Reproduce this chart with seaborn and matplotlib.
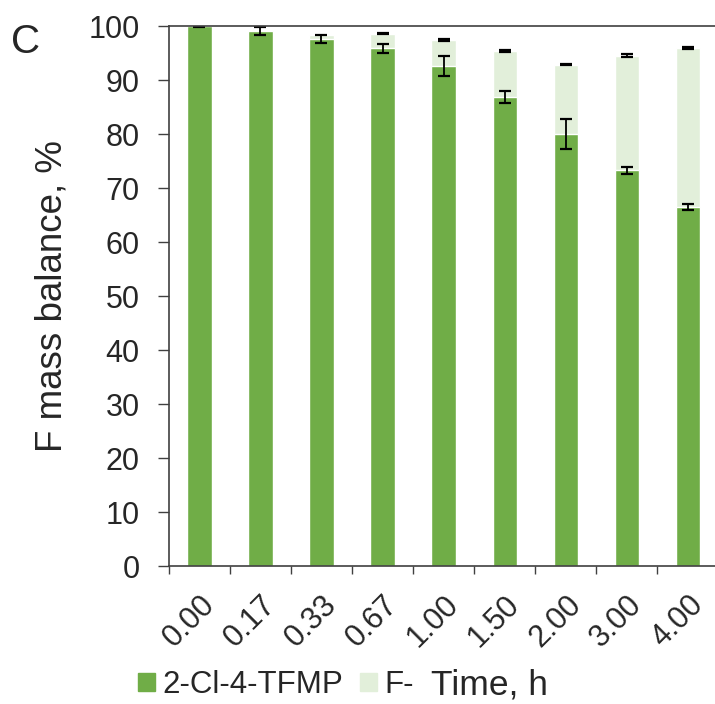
import numpy as np
import pandas as pd
import seaborn as sns
import matplotlib.pyplot as plt
from matplotlib.patches import Patch

# values
times = ["0.00", "0.17", "0.33", "0.67", "1.00", "1.50", "2.00", "3.00", "4.00"]
tfmp = [100.0, 99.1, 97.6, 95.9, 92.6, 86.8, 80.0, 73.25, 66.5]
tfmp_err = [0.15, 0.7, 0.8, 0.85, 1.85, 1.1, 2.8, 0.6, 0.5]
fluoride = [0.0, 0.0, 0.7, 2.7, 4.8, 8.6, 12.85, 21.25, 29.4]
fluoride_err = [np.nan, np.nan, np.nan, 0.15, 0.2, 0.2, 0.05, 0.3, 0.15]

green = "#70AD47"
light = "#E2EFDA"

df = pd.DataFrame({"time": times, "tfmp": tfmp, "fluoride": fluoride})
df["total"] = df["tfmp"] + df["fluoride"]

sns.set_style("white")
plt.rcParams["font.family"] = ["Liberation Sans", "DejaVu Sans"]

fig = plt.figure(figsize=(7.15, 7.04), dpi=100)
ax = fig.add_axes([0.236, 0.196, 0.769, 0.767])

# stacked look: total bar (light) first, then the 2-Cl-4-TFMP part over it
sns.barplot(data=df, x="time", y="total", order=times, color=light,
            saturation=1, width=0.4, errorbar=None, ax=ax)
sns.barplot(data=df, x="time", y="tfmp", order=times, color=green,
            saturation=1, width=0.4, errorbar=None, ax=ax)

pos = np.arange(len(times))
ax.errorbar(pos, df["tfmp"], yerr=tfmp_err, fmt="none", ecolor="black",
            elinewidth=1.3, capsize=4.6, capthick=1.6)
ax.errorbar(pos, df["total"], yerr=fluoride_err, fmt="none", ecolor="black",
            elinewidth=1.3, capsize=4.6, capthick=1.6)

ax.set_ylim(0, 100)
ax.set_xlim(-0.5, len(times) - 0.5)
ax.set_yticks(range(0, 101, 10))
ax.tick_params(axis="y", which="major", direction="out", length=8, width=1,
               pad=13, labelsize=22, left=True, color="#404040")
ax.set_xticks(pos)
ax.set_xticks(np.arange(-0.5, len(times) - 0.5, 1), minor=True)
ax.tick_params(axis="x", which="major", length=0, pad=17, labelsize=22)
ax.tick_params(axis="x", which="minor", direction="out", length=6, width=1,
               bottom=True, color="#404040")
for lab in ax.get_xticklabels():
    lab.set_rotation(45)
    lab.set_ha("right")
    lab.set_va("top")
    lab.set_rotation_mode("anchor")

for side in ["left", "bottom", "top"]:
    ax.spines[side].set_visible(True)
    ax.spines[side].set_color("#404040")
    ax.spines[side].set_linewidth(1.2)
ax.spines["right"].set_visible(False)

ax.set_ylabel("F mass balance, %", fontsize=26.5, va="center")
ax.yaxis.set_label_coords(-0.213, 0.5)
ax.set_xlabel("Time, h", fontsize=25.5, va="center", ha="center")
ax.xaxis.set_label_coords(0.584, -0.22)

handles = [Patch(color=green, label="2-Cl-4-TFMP"), Patch(color=light, label="F-")]
fig.legend(handles=handles, loc="center", bbox_to_anchor=(0.386, 0.027),
           ncol=2, frameon=False, fontsize=22.5, handlelength=0.55,
           handleheight=0.5, handletextpad=0.23, columnspacing=0.55,
           borderpad=0)

fig.text(0.036, 0.94, "C", fontsize=29, ha="center", va="center")

fig.savefig("out.png", dpi=100)
